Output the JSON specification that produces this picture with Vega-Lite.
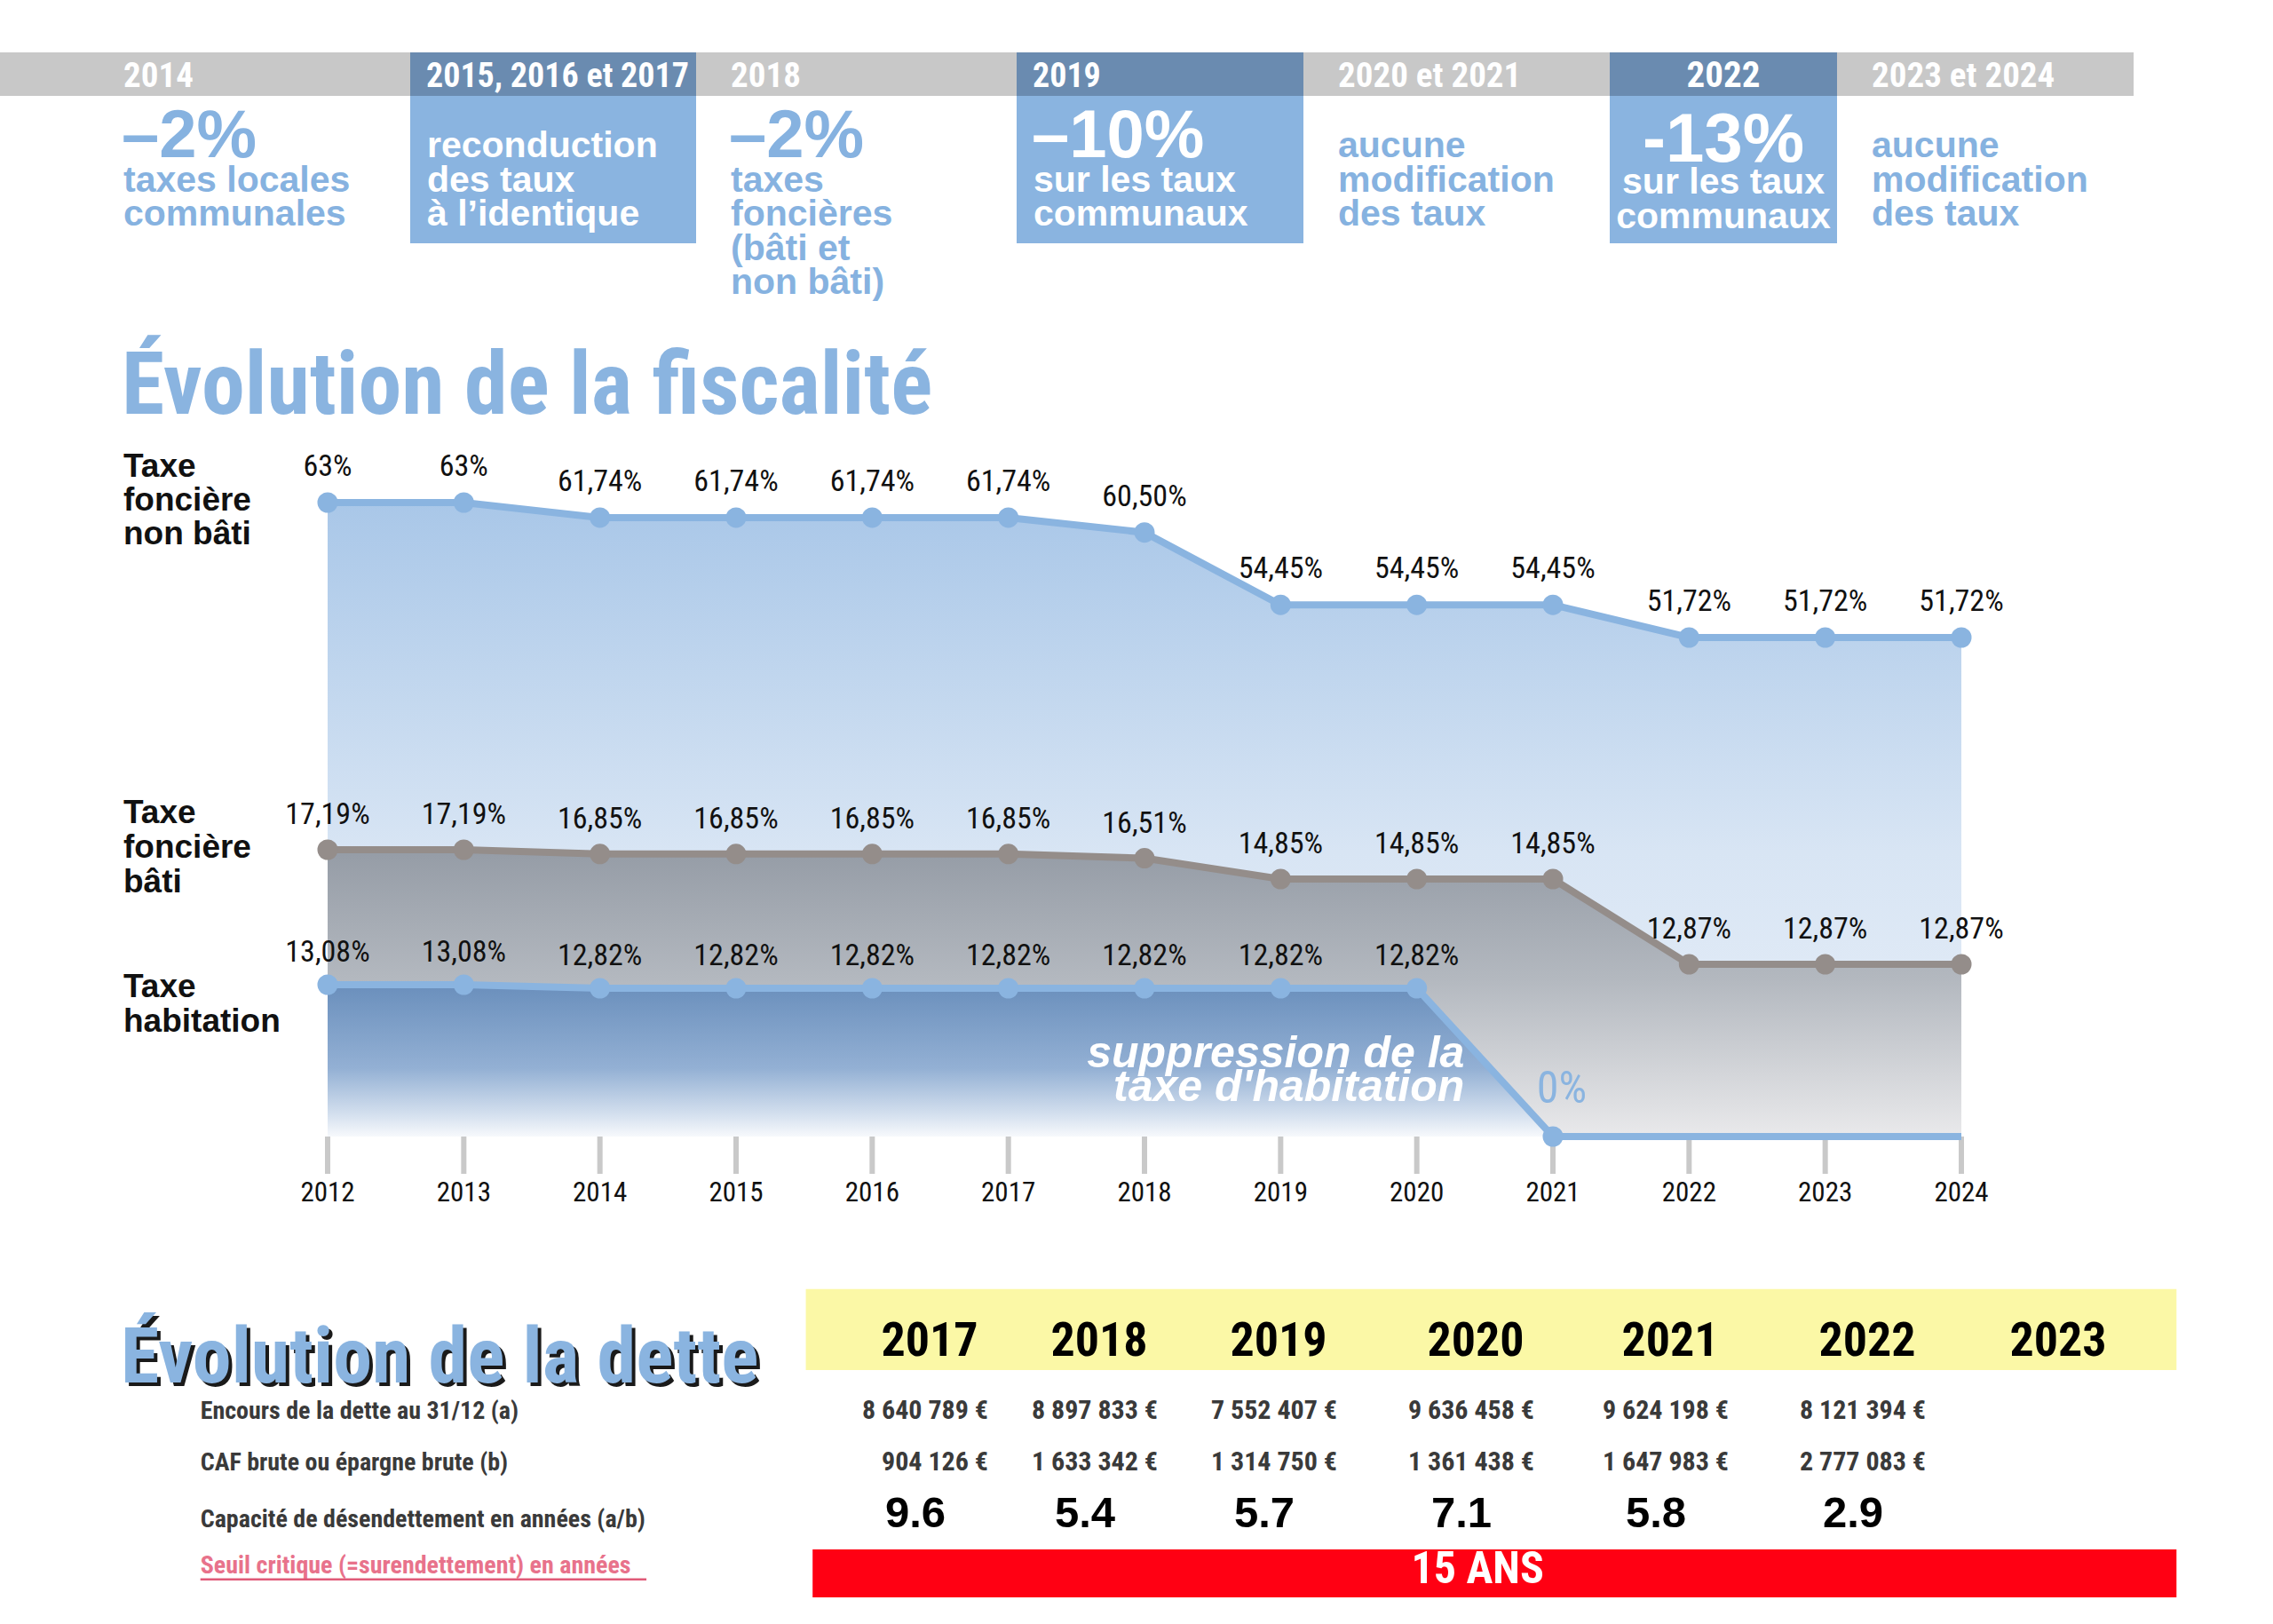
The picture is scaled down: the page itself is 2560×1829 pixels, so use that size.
{
  "$schema": "https://vega.github.io/schema/vega-lite/v6.json",
  "width": 2560,
  "height": 1829,
  "autosize": "none",
  "padding": 0,
  "background": "white",
  "config": {
    "view": {"stroke": null},
    "axis": {"disable": true},
    "legend": {"disable": true},
    "locale": {"number": {"decimal": ".", "thousands": "\u00a0", "grouping": [3], "currency": ["", "\u00a0€"]}}
  },
  "datasets": {
    "bandeau": [
      {"periode": "2014", "debut": 2014, "fin": 2015, "mise_en_avant": "non", "chiffre": "–2%", "texte": "taxes locales\ncommunales"},
      {"periode": "2015, 2016 et 2017", "debut": 2015, "fin": 2018, "mise_en_avant": "oui", "chiffre": "", "texte": "reconduction\ndes taux\nà l’identique"},
      {"periode": "2018", "debut": 2018, "fin": 2019, "mise_en_avant": "non", "chiffre": "–2%", "texte": "taxes\nfoncières\n(bâti et\nnon bâti)"},
      {"periode": "2019", "debut": 2019, "fin": 2020, "mise_en_avant": "oui", "chiffre": "–10%", "texte": "sur les taux\ncommunaux"},
      {"periode": "2020 et 2021", "debut": 2020, "fin": 2022, "mise_en_avant": "non", "chiffre": "", "texte": "aucune\nmodification\ndes taux"},
      {"periode": "2022", "debut": 2022, "fin": 2023, "mise_en_avant": "oui", "chiffre": "-13%", "texte": "sur les taux\ncommunaux"},
      {"periode": "2023 et 2024", "debut": 2023, "fin": 2025, "mise_en_avant": "non", "chiffre": "", "texte": "aucune\nmodification\ndes taux"}
    ],
    "taux": [
      {"taxe": "Taxe foncière non\u00a0bâti", "annee": 2012, "taux": 63, "etiquette": "63%"},
      {"taxe": "Taxe foncière non\u00a0bâti", "annee": 2013, "taux": 63, "etiquette": "63%"},
      {"taxe": "Taxe foncière non\u00a0bâti", "annee": 2014, "taux": 61.74, "etiquette": "61,74%"},
      {"taxe": "Taxe foncière non\u00a0bâti", "annee": 2015, "taux": 61.74, "etiquette": "61,74%"},
      {"taxe": "Taxe foncière non\u00a0bâti", "annee": 2016, "taux": 61.74, "etiquette": "61,74%"},
      {"taxe": "Taxe foncière non\u00a0bâti", "annee": 2017, "taux": 61.74, "etiquette": "61,74%"},
      {"taxe": "Taxe foncière non\u00a0bâti", "annee": 2018, "taux": 60.5, "etiquette": "60,50%"},
      {"taxe": "Taxe foncière non\u00a0bâti", "annee": 2019, "taux": 54.45, "etiquette": "54,45%"},
      {"taxe": "Taxe foncière non\u00a0bâti", "annee": 2020, "taux": 54.45, "etiquette": "54,45%"},
      {"taxe": "Taxe foncière non\u00a0bâti", "annee": 2021, "taux": 54.45, "etiquette": "54,45%"},
      {"taxe": "Taxe foncière non\u00a0bâti", "annee": 2022, "taux": 51.72, "etiquette": "51,72%"},
      {"taxe": "Taxe foncière non\u00a0bâti", "annee": 2023, "taux": 51.72, "etiquette": "51,72%"},
      {"taxe": "Taxe foncière non\u00a0bâti", "annee": 2024, "taux": 51.72, "etiquette": "51,72%"},
      {"taxe": "Taxe foncière bâti", "annee": 2012, "taux": 17.19, "etiquette": "17,19%"},
      {"taxe": "Taxe foncière bâti", "annee": 2013, "taux": 17.19, "etiquette": "17,19%"},
      {"taxe": "Taxe foncière bâti", "annee": 2014, "taux": 16.85, "etiquette": "16,85%"},
      {"taxe": "Taxe foncière bâti", "annee": 2015, "taux": 16.85, "etiquette": "16,85%"},
      {"taxe": "Taxe foncière bâti", "annee": 2016, "taux": 16.85, "etiquette": "16,85%"},
      {"taxe": "Taxe foncière bâti", "annee": 2017, "taux": 16.85, "etiquette": "16,85%"},
      {"taxe": "Taxe foncière bâti", "annee": 2018, "taux": 16.51, "etiquette": "16,51%"},
      {"taxe": "Taxe foncière bâti", "annee": 2019, "taux": 14.85, "etiquette": "14,85%"},
      {"taxe": "Taxe foncière bâti", "annee": 2020, "taux": 14.85, "etiquette": "14,85%"},
      {"taxe": "Taxe foncière bâti", "annee": 2021, "taux": 14.85, "etiquette": "14,85%"},
      {"taxe": "Taxe foncière bâti", "annee": 2022, "taux": 12.87, "etiquette": "12,87%"},
      {"taxe": "Taxe foncière bâti", "annee": 2023, "taux": 12.87, "etiquette": "12,87%"},
      {"taxe": "Taxe foncière bâti", "annee": 2024, "taux": 12.87, "etiquette": "12,87%"},
      {"taxe": "Taxe habitation", "annee": 2012, "taux": 13.08, "etiquette": "13,08%"},
      {"taxe": "Taxe habitation", "annee": 2013, "taux": 13.08, "etiquette": "13,08%"},
      {"taxe": "Taxe habitation", "annee": 2014, "taux": 12.82, "etiquette": "12,82%"},
      {"taxe": "Taxe habitation", "annee": 2015, "taux": 12.82, "etiquette": "12,82%"},
      {"taxe": "Taxe habitation", "annee": 2016, "taux": 12.82, "etiquette": "12,82%"},
      {"taxe": "Taxe habitation", "annee": 2017, "taux": 12.82, "etiquette": "12,82%"},
      {"taxe": "Taxe habitation", "annee": 2018, "taux": 12.82, "etiquette": "12,82%"},
      {"taxe": "Taxe habitation", "annee": 2019, "taux": 12.82, "etiquette": "12,82%"},
      {"taxe": "Taxe habitation", "annee": 2020, "taux": 12.82, "etiquette": "12,82%"},
      {"taxe": "Taxe habitation", "annee": 2021, "taux": 0, "etiquette": "0%"},
      {"taxe": "Taxe habitation", "annee": 2022, "taux": 0, "etiquette": "0%"},
      {"taxe": "Taxe habitation", "annee": 2023, "taux": 0, "etiquette": "0%"},
      {"taxe": "Taxe habitation", "annee": 2024, "taux": 0, "etiquette": "0%"}
    ],
    "dette": [
      {"annee": 2017, "encours": 8640789, "caf": 904126, "capacite": 9.6},
      {"annee": 2018, "encours": 8897833, "caf": 1633342, "capacite": 5.4},
      {"annee": 2019, "encours": 7552407, "caf": 1314750, "capacite": 5.7},
      {"annee": 2020, "encours": 9636458, "caf": 1361438, "capacite": 7.1},
      {"annee": 2021, "encours": 9624198, "caf": 1647983, "capacite": 5.8},
      {"annee": 2022, "encours": 8121394, "caf": 2777083, "capacite": 2.9},
      {"annee": 2023, "encours": null, "caf": null, "capacite": null}
    ]
  },
  "layer": [
    {
      "data": {"name": "bandeau"},
      "layer": [
        {
          "data": {"values": [{"bande": "années"}]},
          "mark": {"type": "rect", "color": "#c8c8c8"},
          "encoding": {
            "x": {"datum": 2013, "type": "quantitative", "scale": {"type": "linear", "domain": [2013, 2014, 2015, 2018, 2019, 2020, 2022, 2023, 2025], "range": [0, 100, 462, 784, 1145, 1468, 1813, 2069, 2403], "nice": false, "zero": false}},
            "x2": {"datum": 2025},
            "y": {"datum": -0.5, "type": "quantitative", "scale": {"type": "linear", "domain": [-0.5, 0, 0.5, 1, 5], "range": [59, 84, 108, 177, 331], "nice": false, "zero": false}},
            "y2": {"datum": 0.5}
          }
        },
        {
          "transform": [{"filter": "datum.mise_en_avant == 'oui'"}],
          "mark": {"type": "rect", "color": "#8ab4e0"},
          "encoding": {
            "x": {"field": "debut", "type": "quantitative", "scale": {"type": "linear", "domain": [2013, 2014, 2015, 2018, 2019, 2020, 2022, 2023, 2025], "range": [0, 100, 462, 784, 1145, 1468, 1813, 2069, 2403], "nice": false, "zero": false}},
            "x2": {"field": "fin"},
            "y": {"datum": 0.5, "type": "quantitative", "scale": {"type": "linear", "domain": [-0.5, 0, 0.5, 1, 5], "range": [59, 84, 108, 177, 331], "nice": false, "zero": false}},
            "y2": {"datum": 3.52}
          }
        },
        {
          "transform": [{"filter": "datum.mise_en_avant == 'oui'"}],
          "mark": {"type": "rect", "color": "#6a8bb0"},
          "encoding": {
            "x": {"field": "debut", "type": "quantitative", "scale": {"type": "linear", "domain": [2013, 2014, 2015, 2018, 2019, 2020, 2022, 2023, 2025], "range": [0, 100, 462, 784, 1145, 1468, 1813, 2069, 2403], "nice": false, "zero": false}},
            "x2": {"field": "fin"},
            "y": {"datum": -0.5, "type": "quantitative", "scale": {"type": "linear", "domain": [-0.5, 0, 0.5, 1, 5], "range": [59, 84, 108, 177, 331], "nice": false, "zero": false}},
            "y2": {"datum": 0.5}
          }
        },
        {
          "transform": [{"filter": "datum.mise_en_avant == 'non'"}],
          "mark": {"type": "text", "align": "left", "baseline": "alphabetic", "dx": 39, "dy": 14, "font": "Roboto Condensed, Liberation Sans Narrow, Roboto, sans-serif", "fontWeight": "bold", "fontSize": 39, "color": "white"},
          "encoding": {
            "x": {"field": "debut", "type": "quantitative", "scale": {"type": "linear", "domain": [2013, 2014, 2015, 2018, 2019, 2020, 2022, 2023, 2025], "range": [0, 100, 462, 784, 1145, 1468, 1813, 2069, 2403], "nice": false, "zero": false}},
            "y": {"datum": 0, "type": "quantitative", "scale": {"type": "linear", "domain": [-0.5, 0, 0.5, 1, 5], "range": [59, 84, 108, 177, 331], "nice": false, "zero": false}},
            "text": {"field": "periode"}
          }
        },
        {
          "transform": [{"filter": "datum.mise_en_avant == 'oui' && datum.debut != 2022"}],
          "mark": {"type": "text", "align": "left", "baseline": "alphabetic", "dx": 18, "dy": 14, "font": "Roboto Condensed, Liberation Sans Narrow, Roboto, sans-serif", "fontWeight": "bold", "fontSize": 38, "color": "white"},
          "encoding": {
            "x": {"field": "debut", "type": "quantitative", "scale": {"type": "linear", "domain": [2013, 2014, 2015, 2018, 2019, 2020, 2022, 2023, 2025], "range": [0, 100, 462, 784, 1145, 1468, 1813, 2069, 2403], "nice": false, "zero": false}},
            "y": {"datum": 0, "type": "quantitative", "scale": {"type": "linear", "domain": [-0.5, 0, 0.5, 1, 5], "range": [59, 84, 108, 177, 331], "nice": false, "zero": false}},
            "text": {"field": "periode"}
          }
        },
        {
          "transform": [{"filter": "datum.debut == 2022"}],
          "mark": {"type": "text", "align": "center", "baseline": "alphabetic", "dy": 14, "font": "Roboto Condensed, Liberation Sans Narrow, Roboto, sans-serif", "fontWeight": "bold", "fontSize": 41, "color": "white"},
          "encoding": {
            "x": {"datum": 2022.5, "type": "quantitative", "scale": {"type": "linear", "domain": [2013, 2014, 2015, 2018, 2019, 2020, 2022, 2023, 2025], "range": [0, 100, 462, 784, 1145, 1468, 1813, 2069, 2403], "nice": false, "zero": false}},
            "y": {"datum": 0, "type": "quantitative", "scale": {"type": "linear", "domain": [-0.5, 0, 0.5, 1, 5], "range": [59, 84, 108, 177, 331], "nice": false, "zero": false}},
            "text": {"field": "periode"}
          }
        },
        {
          "transform": [{"filter": "datum.mise_en_avant == 'non' && datum.chiffre != ''"}],
          "mark": {"type": "text", "align": "left", "baseline": "alphabetic", "dx": 37, "font": "Liberation Sans, Arial, sans-serif", "fontWeight": "bold", "fontSize": 76, "color": "#86b2e0"},
          "encoding": {
            "x": {"field": "debut", "type": "quantitative", "scale": {"type": "linear", "domain": [2013, 2014, 2015, 2018, 2019, 2020, 2022, 2023, 2025], "range": [0, 100, 462, 784, 1145, 1468, 1813, 2069, 2403], "nice": false, "zero": false}},
            "y": {"datum": 1, "type": "quantitative", "scale": {"type": "linear", "domain": [-0.5, 0, 0.5, 1, 5], "range": [59, 84, 108, 177, 331], "nice": false, "zero": false}},
            "text": {"field": "chiffre"}
          }
        },
        {
          "transform": [{"filter": "datum.mise_en_avant == 'oui' && datum.debut != 2022 && datum.chiffre != ''"}],
          "mark": {"type": "text", "align": "left", "baseline": "alphabetic", "dx": 17, "font": "Liberation Sans, Arial, sans-serif", "fontWeight": "bold", "fontSize": 76, "color": "white"},
          "encoding": {
            "x": {"field": "debut", "type": "quantitative", "scale": {"type": "linear", "domain": [2013, 2014, 2015, 2018, 2019, 2020, 2022, 2023, 2025], "range": [0, 100, 462, 784, 1145, 1468, 1813, 2069, 2403], "nice": false, "zero": false}},
            "y": {"datum": 1, "type": "quantitative", "scale": {"type": "linear", "domain": [-0.5, 0, 0.5, 1, 5], "range": [59, 84, 108, 177, 331], "nice": false, "zero": false}},
            "text": {"field": "chiffre"}
          }
        },
        {
          "transform": [{"filter": "datum.debut == 2022"}],
          "mark": {"type": "text", "align": "center", "baseline": "alphabetic", "dy": 5, "font": "Liberation Sans, Arial, sans-serif", "fontWeight": "bold", "fontSize": 78, "color": "white"},
          "encoding": {
            "x": {"datum": 2022.5, "type": "quantitative", "scale": {"type": "linear", "domain": [2013, 2014, 2015, 2018, 2019, 2020, 2022, 2023, 2025], "range": [0, 100, 462, 784, 1145, 1468, 1813, 2069, 2403], "nice": false, "zero": false}},
            "y": {"datum": 1, "type": "quantitative", "scale": {"type": "linear", "domain": [-0.5, 0, 0.5, 1, 5], "range": [59, 84, 108, 177, 331], "nice": false, "zero": false}},
            "text": {"field": "chiffre"}
          }
        },
        {
          "transform": [{"filter": "datum.mise_en_avant == 'non' && datum.chiffre != ''"}],
          "mark": {"type": "text", "align": "left", "baseline": "alphabetic", "dx": 39, "lineBreak": "\n", "lineHeight": 38.5, "font": "Liberation Sans, Arial, sans-serif", "fontWeight": "bold", "fontSize": 41, "color": "#86b2e0"},
          "encoding": {
            "x": {"field": "debut", "type": "quantitative", "scale": {"type": "linear", "domain": [2013, 2014, 2015, 2018, 2019, 2020, 2022, 2023, 2025], "range": [0, 100, 462, 784, 1145, 1468, 1813, 2069, 2403], "nice": false, "zero": false}},
            "y": {"datum": 2, "type": "quantitative", "scale": {"type": "linear", "domain": [-0.5, 0, 0.5, 1, 5], "range": [59, 84, 108, 177, 331], "nice": false, "zero": false}},
            "text": {"field": "texte"}
          }
        },
        {
          "transform": [{"filter": "datum.mise_en_avant == 'non' && datum.chiffre == ''"}],
          "mark": {"type": "text", "align": "left", "baseline": "alphabetic", "dx": 39, "lineBreak": "\n", "lineHeight": 38.5, "font": "Liberation Sans, Arial, sans-serif", "fontWeight": "bold", "fontSize": 41, "color": "#86b2e0"},
          "encoding": {
            "x": {"field": "debut", "type": "quantitative", "scale": {"type": "linear", "domain": [2013, 2014, 2015, 2018, 2019, 2020, 2022, 2023, 2025], "range": [0, 100, 462, 784, 1145, 1468, 1813, 2069, 2403], "nice": false, "zero": false}},
            "y": {"datum": 1, "type": "quantitative", "scale": {"type": "linear", "domain": [-0.5, 0, 0.5, 1, 5], "range": [59, 84, 108, 177, 331], "nice": false, "zero": false}},
            "text": {"field": "texte"}
          }
        },
        {
          "transform": [{"filter": "datum.mise_en_avant == 'oui' && datum.debut != 2022 && datum.chiffre != ''"}],
          "mark": {"type": "text", "align": "left", "baseline": "alphabetic", "dx": 19, "lineBreak": "\n", "lineHeight": 38.5, "font": "Liberation Sans, Arial, sans-serif", "fontWeight": "bold", "fontSize": 41, "color": "white"},
          "encoding": {
            "x": {"field": "debut", "type": "quantitative", "scale": {"type": "linear", "domain": [2013, 2014, 2015, 2018, 2019, 2020, 2022, 2023, 2025], "range": [0, 100, 462, 784, 1145, 1468, 1813, 2069, 2403], "nice": false, "zero": false}},
            "y": {"datum": 2, "type": "quantitative", "scale": {"type": "linear", "domain": [-0.5, 0, 0.5, 1, 5], "range": [59, 84, 108, 177, 331], "nice": false, "zero": false}},
            "text": {"field": "texte"}
          }
        },
        {
          "transform": [{"filter": "datum.mise_en_avant == 'oui' && datum.debut != 2022 && datum.chiffre == ''"}],
          "mark": {"type": "text", "align": "left", "baseline": "alphabetic", "dx": 19, "lineBreak": "\n", "lineHeight": 38.5, "font": "Liberation Sans, Arial, sans-serif", "fontWeight": "bold", "fontSize": 41, "color": "white"},
          "encoding": {
            "x": {"field": "debut", "type": "quantitative", "scale": {"type": "linear", "domain": [2013, 2014, 2015, 2018, 2019, 2020, 2022, 2023, 2025], "range": [0, 100, 462, 784, 1145, 1468, 1813, 2069, 2403], "nice": false, "zero": false}},
            "y": {"datum": 1, "type": "quantitative", "scale": {"type": "linear", "domain": [-0.5, 0, 0.5, 1, 5], "range": [59, 84, 108, 177, 331], "nice": false, "zero": false}},
            "text": {"field": "texte"}
          }
        },
        {
          "transform": [{"filter": "datum.debut == 2022"}],
          "mark": {"type": "text", "align": "center", "baseline": "alphabetic", "dy": 2, "lineBreak": "\n", "lineHeight": 39, "font": "Liberation Sans, Arial, sans-serif", "fontWeight": "bold", "fontSize": 41, "color": "white"},
          "encoding": {
            "x": {"datum": 2022.5, "type": "quantitative", "scale": {"type": "linear", "domain": [2013, 2014, 2015, 2018, 2019, 2020, 2022, 2023, 2025], "range": [0, 100, 462, 784, 1145, 1468, 1813, 2069, 2403], "nice": false, "zero": false}},
            "y": {"datum": 2, "type": "quantitative", "scale": {"type": "linear", "domain": [-0.5, 0, 0.5, 1, 5], "range": [59, 84, 108, 177, 331], "nice": false, "zero": false}},
            "text": {"field": "texte"}
          }
        },
        {
          "data": {"values": [{"titre": "Évolution de la fiscalité"}]},
          "mark": {"type": "text", "align": "left", "baseline": "alphabetic", "dx": 37, "font": "Roboto Condensed, Liberation Sans Narrow, Roboto, sans-serif", "fontWeight": "bold", "fontSize": 98, "color": "#8ab4e0"},
          "encoding": {
            "x": {"datum": 2014, "type": "quantitative", "scale": {"type": "linear", "domain": [2013, 2014, 2015, 2018, 2019, 2020, 2022, 2023, 2025], "range": [0, 100, 462, 784, 1145, 1468, 1813, 2069, 2403], "nice": false, "zero": false}},
            "y": {"datum": 8.5, "type": "quantitative", "scale": {"type": "linear", "domain": [-0.5, 0, 0.5, 1, 5], "range": [59, 84, 108, 177, 331], "nice": false, "zero": false}},
            "text": {"field": "titre"}
          }
        }
      ]
    },
    {
      "data": {"name": "taux"},
      "resolve": {"scale": {"y": "independent"}},
      "layer": [
        {
          "transform": [{"filter": "datum.taxe == 'Taxe foncière non\u00a0bâti'"}],
          "encoding": {
            "x": {"field": "annee", "type": "quantitative", "scale": {"type": "linear", "domain": [2012, 2024], "range": [369, 2209], "nice": false, "zero": false}},
            "y": {"field": "taux", "type": "quantitative", "scale": {"type": "linear", "domain": [0, 51.72, 63], "range": [1280, 718, 566], "nice": false, "zero": false}}
          },
          "layer": [
            {
              "mark": {"type": "area", "color": {"gradient": "linear", "x1": 0, "y1": 0, "x2": 0, "y2": 1, "stops": [{"offset": 0, "color": "#a9c7e8"}, {"offset": 0.55, "color": "#d8e5f4"}, {"offset": 1, "color": "#e8eff8"}]}},
              "encoding": {"y2": {"datum": 0}}
            },
            {"mark": {"type": "line", "color": "#8ab4e0", "strokeWidth": 8}},
            {"mark": {"type": "circle", "color": "#8ab4e0", "size": 530, "opacity": 1}},
            {
              "mark": {"type": "text", "align": "center", "baseline": "alphabetic", "dy": -30, "font": "Roboto Condensed, Liberation Sans Narrow, Roboto, sans-serif", "fontSize": 34, "color": "#111111"},
              "encoding": {"text": {"field": "etiquette"}}
            },
            {
              "transform": [{"filter": "datum.annee == 2012"}],
              "mark": {"type": "text", "align": "left", "baseline": "alphabetic", "dy": -29, "lineBreak": " ", "lineHeight": 38, "font": "Liberation Sans, Arial, sans-serif", "fontWeight": "bold", "fontSize": 37, "color": "#111111"},
              "encoding": {
                "x": {"datum": 2010.5, "type": "quantitative", "scale": {"type": "linear", "domain": [2012, 2024], "range": [369, 2209], "nice": false, "zero": false}},
                "text": {"field": "taxe"}
              }
            }
          ]
        },
        {
          "transform": [{"filter": "datum.taxe == 'Taxe foncière bâti'"}],
          "encoding": {
            "x": {"field": "annee", "type": "quantitative", "scale": {"type": "linear", "domain": [2012, 2024], "range": [369, 2209], "nice": false, "zero": false}},
            "y": {"field": "taux", "type": "quantitative", "scale": {"type": "linear", "domain": [0, 12.87, 14.85, 17.19], "range": [1280, 1086, 990, 957], "nice": false, "zero": false}}
          },
          "layer": [
            {
              "mark": {"type": "area", "color": {"gradient": "linear", "x1": 0, "y1": 0, "x2": 0, "y2": 1, "stops": [{"offset": 0, "color": "#959ca6"}, {"offset": 0.45, "color": "#b3b8bf"}, {"offset": 1, "color": "#e9e9eb"}]}},
              "encoding": {"y2": {"datum": 0}}
            },
            {"mark": {"type": "line", "color": "#948d8a", "strokeWidth": 8}},
            {"mark": {"type": "circle", "color": "#948d8a", "size": 530, "opacity": 1}},
            {
              "mark": {"type": "text", "align": "center", "baseline": "alphabetic", "dy": -29, "font": "Roboto Condensed, Liberation Sans Narrow, Roboto, sans-serif", "fontSize": 34, "color": "#111111"},
              "encoding": {"text": {"field": "etiquette"}}
            },
            {
              "transform": [{"filter": "datum.annee == 2012"}],
              "mark": {"type": "text", "align": "left", "baseline": "alphabetic", "dy": -30, "lineBreak": " ", "lineHeight": 39, "font": "Liberation Sans, Arial, sans-serif", "fontWeight": "bold", "fontSize": 37, "color": "#111111"},
              "encoding": {
                "x": {"datum": 2010.5, "type": "quantitative", "scale": {"type": "linear", "domain": [2012, 2024], "range": [369, 2209], "nice": false, "zero": false}},
                "text": {"field": "taxe"}
              }
            }
          ]
        },
        {
          "transform": [{"filter": "datum.taxe == 'Taxe habitation'"}],
          "encoding": {
            "x": {"field": "annee", "type": "quantitative", "scale": {"type": "linear", "domain": [2012, 2024], "range": [369, 2209], "nice": false, "zero": false}},
            "y": {"field": "taux", "type": "quantitative", "scale": {"type": "linear", "domain": [0, 12.82, 13.08], "range": [1280, 1113, 1109], "nice": false, "zero": false}}
          },
          "layer": [
            {
              "mark": {"type": "area", "color": {"gradient": "linear", "x1": 0, "y1": 0, "x2": 0, "y2": 1, "stops": [{"offset": 0, "color": "#6a8fbc"}, {"offset": 0.55, "color": "#93b0d4"}, {"offset": 0.85, "color": "#d3dfee"}, {"offset": 1, "color": "#f7f9fc"}]}},
              "encoding": {"y2": {"datum": 0}}
            },
            {
              "data": {"values": [{"axe": "années"}]},
              "mark": {"type": "rule", "color": "#c9c9c9", "strokeWidth": 7},
              "encoding": {
                "x": {"datum": 2012, "type": "quantitative", "scale": {"type": "linear", "domain": [2012, 2024], "range": [369, 2209], "nice": false, "zero": false}},
                "x2": {"datum": 2024.93},
                "y": {"datum": 0, "type": "quantitative", "scale": {"type": "linear", "domain": [0, 12.82, 13.08], "range": [1280, 1113, 1109], "nice": false, "zero": false}}
              }
            },
            {
              "mark": {"type": "tick", "orient": "vertical", "size": 42, "thickness": 6, "color": "#c9c9c9", "opacity": 1, "yOffset": 21},
              "encoding": {
                "y": {"datum": 0, "type": "quantitative", "scale": {"type": "linear", "domain": [0, 12.82, 13.08], "range": [1280, 1113, 1109], "nice": false, "zero": false}}
              }
            },
            {
              "mark": {"type": "text", "align": "center", "baseline": "alphabetic", "dy": 73, "font": "Roboto Condensed, Liberation Sans Narrow, Roboto, sans-serif", "fontSize": 31, "color": "#111111"},
              "encoding": {
                "y": {"datum": 0, "type": "quantitative", "scale": {"type": "linear", "domain": [0, 12.82, 13.08], "range": [1280, 1113, 1109], "nice": false, "zero": false}},
                "text": {"field": "annee", "type": "quantitative", "format": "d"}
              }
            },
            {"mark": {"type": "line", "color": "#8ab4e0", "strokeWidth": 8}},
            {
              "transform": [{"filter": "datum.annee <= 2021"}],
              "mark": {"type": "circle", "color": "#8ab4e0", "size": 530, "opacity": 1}
            },
            {
              "transform": [{"filter": "datum.taux > 0"}],
              "mark": {"type": "text", "align": "center", "baseline": "alphabetic", "dy": -26, "font": "Roboto Condensed, Liberation Sans Narrow, Roboto, sans-serif", "fontSize": 34, "color": "#111111"},
              "encoding": {"text": {"field": "etiquette"}}
            },
            {
              "transform": [{"filter": "datum.annee == 2021"}],
              "mark": {"type": "text", "align": "center", "baseline": "alphabetic", "dy": -38, "dx": 10, "font": "Roboto Condensed, Liberation Sans Narrow, Roboto, sans-serif", "fontSize": 50, "color": "#8ab4e0"},
              "encoding": {"text": {"field": "etiquette"}}
            },
            {
              "transform": [{"filter": "datum.annee == 2012"}],
              "mark": {"type": "text", "align": "left", "baseline": "alphabetic", "dy": 14, "lineBreak": " ", "lineHeight": 39, "font": "Liberation Sans, Arial, sans-serif", "fontWeight": "bold", "fontSize": 37, "color": "#111111"},
              "encoding": {
                "x": {"datum": 2010.5, "type": "quantitative", "scale": {"type": "linear", "domain": [2012, 2024], "range": [369, 2209], "nice": false, "zero": false}},
                "text": {"field": "taxe"}
              }
            }
          ]
        },
        {
          "data": {"values": [{"note": "suppression de la"}, {"note": "taxe d'habitation"}]},
          "mark": {"type": "text", "align": "right", "baseline": "alphabetic", "font": "Liberation Sans, Arial, sans-serif", "fontWeight": "bold", "fontStyle": "italic", "fontSize": 50, "color": "#ffffff", "opacity": 1},
          "encoding": {
            "x": {"datum": 2020.35, "type": "quantitative", "scale": {"type": "linear", "domain": [2012, 2024], "range": [369, 2209], "nice": false, "zero": false}},
            "y": {"field": "note", "type": "nominal", "scale": {"type": "point", "domain": ["suppression de la", "taxe d'habitation"], "range": [1202, 1240], "padding": 0}},
            "text": {"field": "note"}
          }
        }
      ]
    },
    {
      "data": {"name": "dette"},
      "layer": [
        {
          "data": {"values": [{"bloc": "années"}]},
          "mark": {"type": "rect", "color": "#fbf8a6"},
          "encoding": {
            "x": {"datum": 2016.27, "type": "quantitative", "scale": {"type": "linear", "domain": [2017, 2018, 2019, 2020, 2021, 2022, 2023], "range": [1047, 1238, 1440, 1662, 1881, 2103, 2318], "nice": false, "zero": false}},
            "x2": {"datum": 2023.62},
            "y": {"datum": -1.06, "type": "quantitative", "scale": {"type": "linear", "domain": [0, 1, 2, 3, 4], "range": [1527, 1598, 1656, 1720, 1772], "nice": false, "zero": false}},
            "y2": {"datum": 0.225}
          }
        },
        {
          "data": {"values": [{"seuil": "15 ANS"}]},
          "layer": [
            {
              "mark": {"type": "rect", "color": "#ff0013"},
              "encoding": {
                "x": {"datum": 2016.31, "type": "quantitative", "scale": {"type": "linear", "domain": [2017, 2018, 2019, 2020, 2021, 2022, 2023], "range": [1047, 1238, 1440, 1662, 1881, 2103, 2318], "nice": false, "zero": false}},
                "x2": {"datum": 2023.62},
                "y": {"datum": 3.48, "type": "quantitative", "scale": {"type": "linear", "domain": [0, 1, 2, 3, 4], "range": [1527, 1598, 1656, 1720, 1772], "nice": false, "zero": false}},
                "y2": {"datum": 4.52}
              }
            },
            {
              "mark": {"type": "text", "align": "center", "baseline": "alphabetic", "font": "Roboto Condensed, Liberation Sans Narrow, Roboto, sans-serif", "fontWeight": "bold", "fontSize": 50, "color": "white"},
              "encoding": {
                "x": {"datum": 2020.01, "type": "quantitative", "scale": {"type": "linear", "domain": [2017, 2018, 2019, 2020, 2021, 2022, 2023], "range": [1047, 1238, 1440, 1662, 1881, 2103, 2318], "nice": false, "zero": false}},
                "y": {"datum": 4.21, "type": "quantitative", "scale": {"type": "linear", "domain": [0, 1, 2, 3, 4], "range": [1527, 1598, 1656, 1720, 1772], "nice": false, "zero": false}},
                "text": {"field": "seuil"}
              }
            }
          ]
        },
        {
          "mark": {"type": "text", "align": "center", "baseline": "alphabetic", "font": "Roboto Condensed, Liberation Sans Narrow, Roboto, sans-serif", "fontWeight": "bold", "fontSize": 54, "color": "#000000"},
          "encoding": {
            "x": {"field": "annee", "type": "quantitative", "scale": {"type": "linear", "domain": [2017, 2018, 2019, 2020, 2021, 2022, 2023], "range": [1047, 1238, 1440, 1662, 1881, 2103, 2318], "nice": false, "zero": false}},
            "y": {"datum": 0, "type": "quantitative", "scale": {"type": "linear", "domain": [0, 1, 2, 3, 4], "range": [1527, 1598, 1656, 1720, 1772], "nice": false, "zero": false}},
            "text": {"field": "annee", "type": "quantitative", "format": "d"}
          }
        },
        {
          "transform": [{"filter": "isValid(datum.encours)"}],
          "mark": {"type": "text", "align": "right", "baseline": "alphabetic", "dx": 66, "font": "Roboto Condensed, Liberation Sans Narrow, Roboto, sans-serif", "fontWeight": "bold", "fontSize": 30, "color": "#3a3a3a"},
          "encoding": {
            "x": {"field": "annee", "type": "quantitative", "scale": {"type": "linear", "domain": [2017, 2018, 2019, 2020, 2021, 2022, 2023], "range": [1047, 1238, 1440, 1662, 1881, 2103, 2318], "nice": false, "zero": false}},
            "y": {"datum": 1, "type": "quantitative", "scale": {"type": "linear", "domain": [0, 1, 2, 3, 4], "range": [1527, 1598, 1656, 1720, 1772], "nice": false, "zero": false}},
            "text": {"field": "encours", "type": "quantitative", "format": "$,.0f"}
          }
        },
        {
          "transform": [{"filter": "isValid(datum.caf)"}],
          "mark": {"type": "text", "align": "right", "baseline": "alphabetic", "dx": 66, "font": "Roboto Condensed, Liberation Sans Narrow, Roboto, sans-serif", "fontWeight": "bold", "fontSize": 30, "color": "#3a3a3a"},
          "encoding": {
            "x": {"field": "annee", "type": "quantitative", "scale": {"type": "linear", "domain": [2017, 2018, 2019, 2020, 2021, 2022, 2023], "range": [1047, 1238, 1440, 1662, 1881, 2103, 2318], "nice": false, "zero": false}},
            "y": {"datum": 2, "type": "quantitative", "scale": {"type": "linear", "domain": [0, 1, 2, 3, 4], "range": [1527, 1598, 1656, 1720, 1772], "nice": false, "zero": false}},
            "text": {"field": "caf", "type": "quantitative", "format": "$,.0f"}
          }
        },
        {
          "transform": [{"filter": "isValid(datum.capacite)"}],
          "mark": {"type": "text", "align": "center", "baseline": "alphabetic", "dx": -16, "font": "Liberation Sans, Arial, sans-serif", "fontWeight": "bold", "fontSize": 49, "color": "#000000"},
          "encoding": {
            "x": {"field": "annee", "type": "quantitative", "scale": {"type": "linear", "domain": [2017, 2018, 2019, 2020, 2021, 2022, 2023], "range": [1047, 1238, 1440, 1662, 1881, 2103, 2318], "nice": false, "zero": false}},
            "y": {"datum": 3, "type": "quantitative", "scale": {"type": "linear", "domain": [0, 1, 2, 3, 4], "range": [1527, 1598, 1656, 1720, 1772], "nice": false, "zero": false}},
            "text": {"field": "capacite", "type": "quantitative", "format": ".1f"}
          }
        },
        {
          "data": {"values": [
            {"libelle": "Encours de la dette au 31/12 (a)", "rang": 1},
            {"libelle": "CAF brute ou épargne brute (b)", "rang": 2},
            {"libelle": "Capacité de désendettement en années (a/b)", "rang": 3},
            {"libelle": "Seuil critique (=surendettement) en années", "rang": 4}
          ]},
          "mark": {"type": "text", "align": "left", "baseline": "alphabetic", "font": "Roboto Condensed, Liberation Sans Narrow, Roboto, sans-serif", "fontWeight": "bold", "fontSize": 28},
          "encoding": {
            "x": {"datum": 2012.7, "type": "quantitative", "scale": {"type": "linear", "domain": [2017, 2018, 2019, 2020, 2021, 2022, 2023], "range": [1047, 1238, 1440, 1662, 1881, 2103, 2318], "nice": false, "zero": false}},
            "y": {"field": "rang", "type": "quantitative", "scale": {"type": "linear", "domain": [0, 1, 2, 3, 4], "range": [1527, 1598, 1656, 1720, 1772], "nice": false, "zero": false}},
            "text": {"field": "libelle"},
            "color": {"condition": {"test": "datum.rang == 4", "value": "#e8728b"}, "value": "#3a3a3a"}
          }
        },
        {
          "data": {"values": [{"souligne": "seuil"}]},
          "mark": {"type": "rule", "color": "#e05a78", "strokeWidth": 2.5},
          "encoding": {
            "x": {"datum": 2012.7, "type": "quantitative", "scale": {"type": "linear", "domain": [2017, 2018, 2019, 2020, 2021, 2022, 2023], "range": [1047, 1238, 1440, 1662, 1881, 2103, 2318], "nice": false, "zero": false}},
            "x2": {"datum": 2015.33},
            "y": {"datum": 4.13, "type": "quantitative", "scale": {"type": "linear", "domain": [0, 1, 2, 3, 4], "range": [1527, 1598, 1656, 1720, 1772], "nice": false, "zero": false}}
          }
        },
        {
          "data": {"values": [{"titre": "Évolution de la dette"}]},
          "layer": [
            {
              "mark": {"type": "text", "align": "left", "baseline": "alphabetic", "dx": 4, "dy": 4, "font": "Roboto Condensed, Liberation Sans Narrow, Roboto, sans-serif", "fontWeight": "bold", "fontSize": 88, "color": "#1a1a1a"},
              "encoding": {
                "x": {"datum": 2012.23, "type": "quantitative", "scale": {"type": "linear", "domain": [2017, 2018, 2019, 2020, 2021, 2022, 2023], "range": [1047, 1238, 1440, 1662, 1881, 2103, 2318], "nice": false, "zero": false}},
                "y": {"datum": 0.42, "type": "quantitative", "scale": {"type": "linear", "domain": [0, 1, 2, 3, 4], "range": [1527, 1598, 1656, 1720, 1772], "nice": false, "zero": false}},
                "text": {"field": "titre"}
              }
            },
            {
              "mark": {"type": "text", "align": "left", "baseline": "alphabetic", "font": "Roboto Condensed, Liberation Sans Narrow, Roboto, sans-serif", "fontWeight": "bold", "fontSize": 88, "color": "#8ab4e0"},
              "encoding": {
                "x": {"datum": 2012.23, "type": "quantitative", "scale": {"type": "linear", "domain": [2017, 2018, 2019, 2020, 2021, 2022, 2023], "range": [1047, 1238, 1440, 1662, 1881, 2103, 2318], "nice": false, "zero": false}},
                "y": {"datum": 0.42, "type": "quantitative", "scale": {"type": "linear", "domain": [0, 1, 2, 3, 4], "range": [1527, 1598, 1656, 1720, 1772], "nice": false, "zero": false}},
                "text": {"field": "titre"}
              }
            }
          ]
        }
      ]
    }
  ],
  "resolve": {"scale": {"x": "independent", "y": "independent"}}
}
